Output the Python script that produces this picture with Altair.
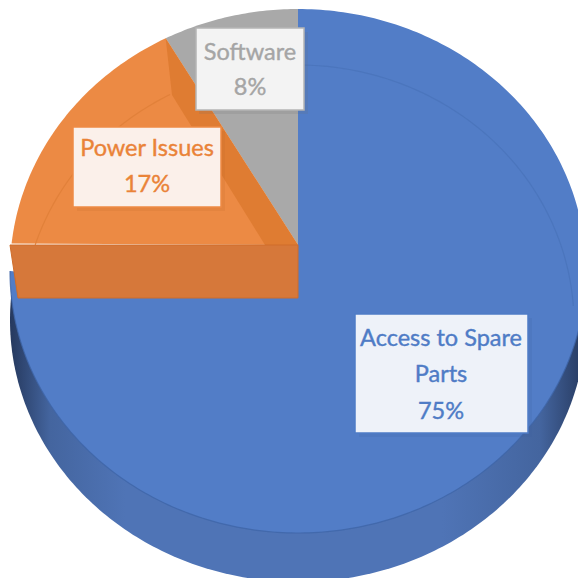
import numpy as np
import pandas as pd
import altair as alt

categories = ["Access to Spare Parts", "Power Issues", "Software"]
shares = [75, 17, 8]
label_lines = [["Access to Spare", "Parts", "75%"], ["Power Issues", "17%"], ["Software", "8%"]]

# geometry of the drawing, in pixels of the 586 window
CX, CY, RX, RY = 298.0, 271.0, 288.0, 262.0
DEPTH = 49.0
W, H = 570, 570
PERSPECTIVE = 0.95  # the tilted view narrows the far slice a little


def ux(p):
    return (np.asarray(p, dtype=float) - CX) / RX


def uy(p):
    return (CY - np.asarray(p, dtype=float)) / RY


XS = alt.Scale(domain=[float(ux(8)), float(ux(8 + W))], nice=False, zero=False)
YS = alt.Scale(domain=[float(uy(8 + H)), float(uy(8))], nice=False, zero=False)

# slice boundaries, counter-clockwise from 12 o'clock, from the shares
software, power, access = shares[2], shares[1], shares[0]
a0 = 0.0
a1 = software * 3.6 * PERSPECTIVE
a2 = (software + power) * 3.6
a3 = 360.0


def rim(start, end, n=120):
    t = np.radians(np.linspace(start, end, n))
    return -np.sin(t), np.cos(t)


def poly(xs, ys, name):
    return pd.DataFrame({"x": xs, "y": ys, "i": np.arange(len(xs)), "s": name})


def shape(df, fill, stroke=None, sw=0, op=1.0):
    kw = {"filled": True, "fill": fill, "strokeWidth": sw, "opacity": op, "clip": True}
    if stroke:
        kw["stroke"] = stroke
    return alt.Chart(df).mark_line(**kw).encode(
        x=alt.X("x:Q", scale=XS, axis=None),
        y=alt.Y("y:Q", scale=YS, axis=None),
        order="i:Q",
    )


def stroke_line(df, color, sw=1.0, op=1.0):
    return alt.Chart(df).mark_line(color=color, strokeWidth=sw, opacity=op, clip=True).encode(
        x=alt.X("x:Q", scale=XS, axis=None),
        y=alt.Y("y:Q", scale=YS, axis=None),
        order="i:Q",
    )


layers = []

# side wall
sx, sy = rim(84.6, 275.4, 200)
dy = DEPTH / RY
side_df = poly(sx, sy - dy, "side")
grad = alt.LinearGradient(
    gradient="linear", x1=0, x2=1, y1=0, y2=0,
    stops=[
        alt.GradientStop(offset=0.0, color="#26395e"),
        alt.GradientStop(offset=0.07, color="#44659f"),
        alt.GradientStop(offset=0.2, color="#4f74b6"),
        alt.GradientStop(offset=0.75, color="#4f74b6"),
        alt.GradientStop(offset=0.92, color="#44659f"),
        alt.GradientStop(offset=1.0, color="#26395e"),
    ],
)
layers.append(shape(side_df, grad))

# top face, blue
bx, by = rim(a2, a3, 300)
blue_df = poly(np.r_[bx, 0], np.r_[by, uy(298)], "blue")
layers.append(shape(blue_df, "#527dc7"))
ex, ey = rim(90, 270, 200)
layers.append(stroke_line(poly(ex, ey, "edge"), "#3f65a8", 1.2, 0.8))

# faint inner ring on the blue
rx_, ry_ = rim(-86, 0, 100)
ring_df = poly(ux(CX + rx_ * 276), uy(324 - ry_ * 259), "ring")
layers.append(stroke_line(ring_df, "#4a74bb", 1.2, 0.9))

# grey and orange lifted faces
ax_apex, ay_apex = 0.0, float(uy(245))
gx, gy = rim(a0, a1, 40)
layers.append(shape(poly(np.r_[gx, ax_apex], np.r_[gy, ay_apex], "grey"), "#a9a9a9"))
ox, oy = rim(a1, a2 - 6, 60)
orange_df = poly(np.r_[ox, ax_apex], np.r_[oy, ay_apex], "orange")
layers.append(shape(orange_df, "#ec8a44"))
# darker inner facet seen through the orange
facet_df = poly(
    np.r_[ox[0], ux([172, 265, 298]), ox[0]], np.r_[oy[0], uy([95, 245, 245]), oy[0]], "facet"
)
layers.append(shape(facet_df, "#df7c32"))
ix, iy = rim(27.6, 72.2, 60)
arc_df = poly(ux(CX + ix * 276), uy(324 - iy * 259), "arc")
layers.append(stroke_line(arc_df, "#e07f38", 1.2, 0.9))

# front wall of the orange slice
wall_df = poly(ux([10, 298, 298, 18, 10]), uy([245, 245, 298, 298, 245]), "wall")
layers.append(shape(wall_df, "#d6783a", "#cf6d2b", 1))

# label boxes
boxes = pd.DataFrame({
    "x": ux([355, 73, 196]), "x2": ux([528, 221, 304]),
    "y": uy([314, 127, 28]), "y2": uy([433, 207, 110]),
    "sx": ux([359, 77, 199]), "sx2": ux([532, 225, 308]),
    "sy": uy([318, 131, 32]), "sy2": uy([437, 211, 114]),
    "fill": ["#eef2f9", "#fbf0ea", "#f3f3f3"],
    "stroke": ["#4f7cc6", "#ee8a45", "#b5b5b5"],
    "shadow": ["#3d5f9c", "#b9642b", "#6e6e6e"],
    "name": categories,
})
layers.append(
    alt.Chart(boxes).mark_rect(opacity=0.15).encode(
        x=alt.X("sx:Q", scale=XS, axis=None), x2="sx2:Q",
        y=alt.Y("sy:Q", scale=YS, axis=None), y2="sy2:Q",
        fill=alt.Fill("shadow:N", scale=None),
    )
)
layers.append(
    alt.Chart(boxes).mark_rect(strokeWidth=1.5).encode(
        x=alt.X("x:Q", scale=XS, axis=None), x2="x2:Q",
        y=alt.Y("y:Q", scale=YS, axis=None), y2="y2:Q",
        fill=alt.Fill("fill:N", scale=None),
        stroke=alt.Stroke("stroke:N", scale=None),
    )
)

# label text
cols = {"Access to Spare Parts": "#4f7cc6", "Power Issues": "#ea8338", "Software": "#a5a5a5"}
line_x = [441, 147, 250]
line_y = [[339, 375, 412], [149, 185], [53, 88]]
rows = []
for cat, lines, lx, lys in zip(categories, label_lines, line_x, line_y):
    for t, ly in zip(lines, lys):
        rows.append({"x": float(ux(lx)), "y": float(uy(ly)), "t": t, "c": cols[cat]})
layers.append(
    alt.Chart(pd.DataFrame(rows)).mark_text(
        font="Lato", fontSize=23.5, align="center", baseline="middle", strokeWidth=0.4
    ).encode(
        x=alt.X("x:Q", scale=XS, axis=None),
        y=alt.Y("y:Q", scale=YS, axis=None),
        text="t:N",
        color=alt.Color("c:N", scale=None),
        stroke=alt.Stroke("c:N", scale=None),
    )
)

chart = alt.layer(*layers).properties(
    width=W, height=H, padding=0, background="white"
).configure_view(stroke=None)

chart.save("out.html", embed_options={"renderer": "svg", "actions": False})
